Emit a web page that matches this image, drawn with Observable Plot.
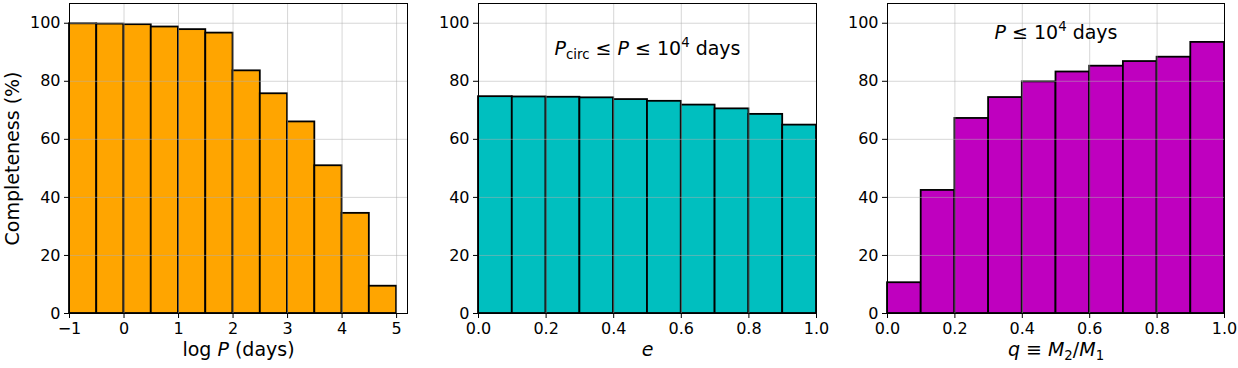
<!DOCTYPE html>
<html>
<head>
<meta charset="utf-8">
<script src="https://cdn.jsdelivr.net/npm/d3@7"></script>
<script src="https://cdn.jsdelivr.net/npm/@observablehq/plot@0.6"></script>
<style>
  html, body { margin: 0; padding: 0; background: white; }
  #row { display: flex; width: 1238px; height: 368px; }
  #row > div { flex: none; }
</style>
</head>
<body>
<div id="row"><div id="p1"></div><div id="p2"></div><div id="p3"></div></div>
<script>
// ---- data ----
const logPEdges = [-1, -0.5, 0, 0.5, 1, 1.5, 2, 2.5, 3, 3.5, 4, 4.5, 5];
const logPCompleteness = [99.8, 99.7, 99.5, 98.7, 97.8, 96.6, 83.6, 75.7, 66.0, 50.9, 34.5, 9.4];
const eEdges = [0, 0.1, 0.2, 0.3, 0.4, 0.5, 0.6, 0.7, 0.8, 0.9, 1.0];
const eCompleteness = [74.7, 74.6, 74.5, 74.3, 73.7, 73.1, 71.8, 70.5, 68.6, 64.9];
const qEdges = [0, 0.1, 0.2, 0.3, 0.4, 0.5, 0.6, 0.7, 0.8, 0.9, 1.0];
const qCompleteness = [10.6, 42.4, 67.2, 74.4, 79.8, 83.2, 85.2, 86.8, 88.3, 93.4];
const yTicks = [0, 20, 40, 60, 80, 100];
const logPTicks = [-1, 0, 1, 2, 3, 4, 5];
const fracTicks = [0, 0.2, 0.4, 0.6, 0.8, 1.0];
const yLabel = "Completeness (%)";
const xLabels = ["log P (days)", "e", "q ≡ M2/M1"];
const notes = [null, "Pcirc ≤ P ≤ 10^4 days", "P ≤ 10^4 days"];
const colors = ["#ffa500", "#00bfbf", "#bf00bf"];

function table(edges, values) {
  return values.map((v, i) => ({x1: edges[i], x2: edges[i + 1], y: v}));
}
const fmtX = d => d < 0 ? "\u2212" + (-d) : String(d);
const fmtFrac = d3.format(".1f");

function panel({data, color, xDomain, xTicks, xFormat, xLabel, note, noteY, width, marginLeft, marginRight, showYLabel}) {
  const marks = [
    Plot.rectY(data, {x1: "x1", x2: "x2", y: "y", fill: color, stroke: "black", strokeWidth: 1.8}),
    Plot.gridY(yTicks, {stroke: "#b0b0b0", strokeOpacity: 0.5, strokeWidth: 1}),
    Plot.gridX(xTicks, {stroke: "#b0b0b0", strokeOpacity: 0.5, strokeWidth: 1}),
    Plot.axisY(yTicks, {tickSize: 5, tickPadding: 4, fontSize: 16, label: null, stroke: "black", fill: "black"}),
    Plot.axisX(xTicks, {tickSize: 5, tickPadding: 4, fontSize: 16, label: null, tickFormat: xFormat, stroke: "black", fill: "black"}),
    Plot.text([xLabel], {frameAnchor: "bottom", dy: 42, fontSize: 19, fill: "black"}),
    Plot.frame({stroke: "black", strokeWidth: 1})
  ];
  if (showYLabel) marks.push(Plot.text([yLabel], {frameAnchor: "left", textAnchor: "middle", dx: -57, rotate: -90, fontSize: 19, fill: "black"}));
  if (note) marks.push(Plot.text([{x: 0.5, y: noteY, t: note}], {x: "x", y: "y", text: "t", fontSize: 19, fill: "black"}));
  return Plot.plot({
    width, height: 368,
    marginLeft, marginRight, marginTop: 3, marginBottom: 55,
    x: {domain: xDomain, label: null},
    y: {domain: [0, 106.8], label: null},
    style: {fontFamily: "'DejaVu Sans', sans-serif", fontSize: "16px", color: "black", background: "transparent", overflow: "visible"},
    marks
  });
}

function rich(svg, plain, html) {
  d3.select(svg).selectAll("text").filter(function () { return this.textContent === plain; }).html(html);
}
const it = s => `<tspan font-style="italic">${s}</tspan>`;
const sub = (s, after) => `<tspan font-size="70%" dy="4">${s}</tspan>` + (after ? `<tspan dy="-4">${after}</tspan>` : "");
const sup = (s, after) => `<tspan font-size="70%" dy="-8">${s}</tspan>` + (after ? `<tspan dy="8">${after}</tspan>` : "");

const s1 = panel({data: table(logPEdges, logPCompleteness), color: colors[0], xDomain: [-1, 5.2], xTicks: logPTicks, xFormat: fmtX,
  xLabel: xLabels[0], width: 415, marginLeft: 69, marginRight: 8, showYLabel: true});
const s2 = panel({data: table(eEdges, eCompleteness), color: colors[1], xDomain: [0, 1], xTicks: fracTicks, xFormat: fmtFrac,
  xLabel: xLabels[1], note: notes[1], noteY: 91, width: 410, marginLeft: 63, marginRight: 9});
const s3 = panel({data: table(qEdges, qCompleteness), color: colors[2], xDomain: [0, 1], xTicks: fracTicks, xFormat: fmtFrac,
  xLabel: xLabels[2], note: notes[2], noteY: 96.5, width: 413, marginLeft: 62, marginRight: 14});

rich(s1, xLabels[0], `log ${it("P")} (days)`);
rich(s2, xLabels[1], it("e"));
rich(s3, xLabels[2], `${it("q")} ≡ ${it("M")}${sub("2", "/")}${it("M")}${sub("1")}`);
rich(s2, notes[1], `${it("P")}${sub("circ", " ≤ ")}${it("P")} ≤ 10${sup("4", " days")}`);
rich(s3, notes[2], `${it("P")} ≤ 10${sup("4", " days")}`);

document.getElementById("p1").appendChild(s1);
document.getElementById("p2").appendChild(s2);
document.getElementById("p3").appendChild(s3);
</script>
</body>
</html>
